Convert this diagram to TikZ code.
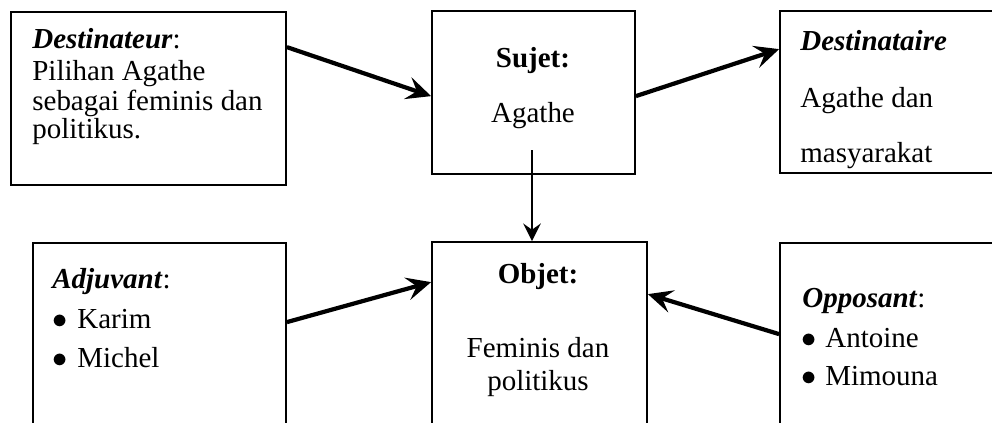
\documentclass[tikz,border=0pt]{standalone}
\usepackage{fontspec}
\setmainfont{Liberation Serif}
\usetikzlibrary{arrows.meta,calc,fit}

\tikzset{
	box/.style={draw, line width=1pt, inner sep=0pt},
	txt/.style={inner sep=0pt, font=\fontsize{16.5}{19}\selectfont},
	bigarrow/.style={line width=2.4pt, -{Stealth[length=14pt, width=13pt, inset=5.5pt]}},
	smallarrow/.style={line width=1.5pt, -{Stealth[length=10pt, width=10pt, inset=3.5pt]}}
}

\begin{document}
\begin{tikzpicture}[x=0.02cm, y=-0.02cm]
			%%%%% START %%%%%
			
			\clip (0, 0) rectangle (992, 423);
			
			\node[box, fit={(11, 12) (286, 185)}] (destinateur) {};
			\node[box, fit={(432, 11) (635, 174)}] (sujet) {};
			\node[box, fit={(780, 11) (1010, 173)}] (destinataire) {};
			
			\node[box, fit={(33, 243) (286, 440)}] (adjuvant) {};
			\node[box, fit={(432, 242) (647, 440)}] (objet) {};
			\node[box, fit={(780, 243) (1010, 440)}] (opposant) {};
			
			\node[txt, anchor=base west] (destinateurA) at (32, 48) {\textbf{\textit{Destinateur}}:};
			\node[txt, anchor=base west] (destinateurB) at (32, 80) {Pilihan Agathe};
			\node[txt, anchor=base west] (destinateurC) at (32, 110) {sebagai feminis dan};
			\node[txt, anchor=base west] (destinateurD) at (32, 138) {politikus.};
			
			\node[txt, anchor=base] (sujetA) at (533, 67) {\textbf{Sujet:}};
			\node[txt, anchor=base] (sujetB) at (533, 122) {Agathe};
			
			\node[txt, anchor=base west] (destinataireA) at (800, 50) {\textbf{\textit{Destinataire}}};
			\node[txt, anchor=base west] (destinataireB) at (800, 107) {Agathe dan};
			\node[txt, anchor=base west] (destinataireC) at (800, 162) {masyarakat};
			
			\node[txt, anchor=base west] (adjuvantA) at (52, 288) {\textbf{\textit{Adjuvant}}:};
			\node[txt, anchor=base west] (adjuvantB) at (52, 328) {$\bullet$};
			\node[txt, anchor=base west] (adjuvantC) at (77, 328) {Karim};
			\node[txt, anchor=base west] (adjuvantD) at (52, 367) {$\bullet$};
			\node[txt, anchor=base west] (adjuvantE) at (77, 367) {Michel};
			
			\node[txt, anchor=base] (objetA) at (538, 283) {\textbf{Objet:}};
			\node[txt, anchor=base] (objetB) at (538, 357) {Feminis dan};
			\node[txt, anchor=base] (objetC) at (538, 390) {politikus};
			
			\node[txt, anchor=base west] (opposantA) at (802, 307) {\textbf{\textit{Opposant}}:};
			\node[txt, anchor=base west] (opposantB) at (801, 347) {$\bullet$};
			\node[txt, anchor=base west] (opposantC) at (825, 347) {Antoine};
			\node[txt, anchor=base west] (opposantD) at (801, 385) {$\bullet$};
			\node[txt, anchor=base west] (opposantE) at (825, 385) {Mimouna};
			
			\coordinate (sujetfoot) at (532, 150);
			
			\draw[bigarrow] ($(destinateur.north east)+(0, 36)$) -- ($(sujet.north west)+(0, 86)$);
			\draw[bigarrow] ($(sujet.north east)+(0, 86)$) -- ($(destinataire.north west)+(0, 39)$);
			\draw[smallarrow] (sujetfoot) -- (sujetfoot |- objet.north);
			\draw[bigarrow] ($(adjuvant.north east)+(0, 80)$) -- ($(objet.north west)+(0, 41)$);
			\draw[bigarrow] ($(opposant.north west)+(0, 92)$) -- ($(objet.north east)+(0, 53)$);
			
			%%%%% END %%%%%
\end{tikzpicture}
\end{document}
